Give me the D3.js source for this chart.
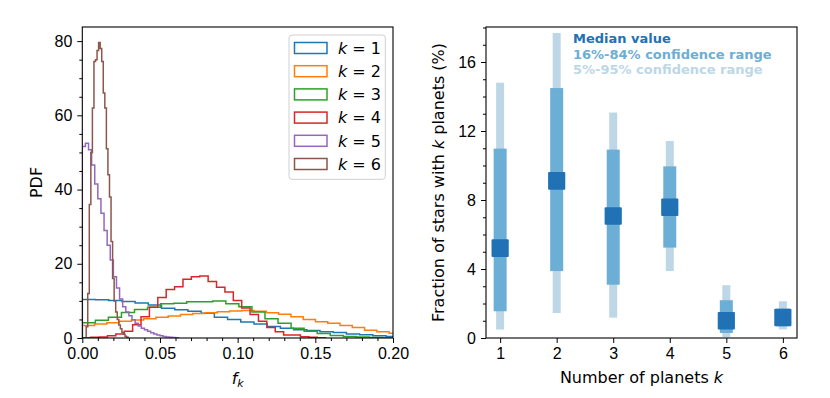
<!DOCTYPE html>
<html>
<head>
<meta charset="utf-8">
<script src="https://cdn.jsdelivr.net/npm/d3@7"></script>
<style>
  body { margin: 0; background: #fff; }
  svg { display: block; font-family: "DejaVu Sans", sans-serif; }
  .tick-text { font-size: 16px; fill: #000; }
  .axis-label { font-size: 16px; fill: #000; }
</style>
</head>
<body>
<svg id="chart" width="830" height="398"></svg>
<script>
// ========= data: left panel (step histograms of f_k) =========
const kLabels = ["1", "2", "3", "4", "5", "6"];
const histColors = ["#1f77b4", "#ff7f0e", "#2ca02c", "#d62728", "#9467bd", "#8c564b"];

// first bin edge and bin width for each k
const binStart = [0, 0, 0, 0, 0, 0.0025];
const binWidth = [0.0085, 0.0079, 0.0084, 0.0054, 0.002, 0.001];

const pdfK1 = [10.4, 10.3, 10.1, 9.85, 9.4, 8.9, 8.0, 7.6, 7.2, 6.7, 5.6, 5.0, 4.3, 3.8, 3.1, 2.6,
    2.2, 2.0, 1.7, 1.5, 1.1, 0.85, 0.6, 0.4];
const pdfK2 = [3.4, 3.8, 4.1, 4.5, 4.85, 5.2, 5.6, 5.9, 6.3, 6.6, 6.8, 7.1, 7.3, 7.4, 7.2, 6.8,
    6.4, 5.7, 5.0, 4.4, 4.0, 3.4, 2.8, 2.1, 1.7, 1.3, 1.0];
const pdfK3 = [4.1, 4.8, 5.6, 6.9, 7.7, 8.3, 9.2, 9.35, 9.8, 9.8, 9.95, 9.2, 8.4, 7.0, 5.2, 4.0,
    2.6, 1.8, 1.2, 0.7, 0.4, 0.25, 0.15, 0.1];
const pdfK4 = [0.1, 0.2, 0.3, 0.6, 1.1, 1.8, 3.6, 5.7, 8.3, 10.9, 13.1, 13.8, 15.8, 16.5, 16.7,
    15.2, 13.7, 12.4, 10.1, 8.1, 6.3, 4.5, 2.8, 1.7, 0.8, 0.8, 0.35, 0.2, 0.1];
const pdfK5 = [51.6, 52.5, 50.7, 46.6, 41.5, 37.5, 33.6, 29, 25, 21, 16.5, 13.5, 10.5, 8.4, 7,
    6, 4.9, 4, 3.2, 2.6, 2.2, 1.8, 1.4, 1.1, 0.8, 0.6, 0.4, 0.3, 0.2, 0.15, 0.1];
const pdfK6 = [3, 12, 36, 50, 62, 74.5, 75, 77.5, 79.6, 78, 74.5, 66, 62, 51, 44, 38, 26, 16, 10,
    7, 5, 3.5, 2.5, 1.5, 1, 0.5, 0.2];
const pdfSeries = [pdfK1, pdfK2, pdfK3, pdfK4, pdfK5, pdfK6];

const leftXTicks = [0, 0.05, 0.10, 0.15, 0.20];
const leftYTicks = [0, 20, 40, 60, 80];

// ========= data: right panel (fraction of stars, %) =========
const planetK = [1, 2, 3, 4, 5, 6];
const median = [5.21, 9.11, 7.07, 7.58, 1.0, 1.19];
const lo16 = [1.55, 3.88, 3.09, 5.24, 0.29, 0.68];
const hi84 = [10.98, 14.49, 10.92, 9.95, 2.19, 1.7];
const lo5 = [0.49, 1.45, 1.18, 3.88, 0.05, 0.5];
const hi95 = [14.8, 17.68, 13.07, 11.42, 3.06, 2.13];
const rightYTicks = [0, 4, 8, 12, 16];
const rangeLabels = ["Median value", "16%-84% confidence range", "5%-95% confidence range"];
const rangeColors = ["#2171b5", "#6baed6", "#bdd7e7"];

// ========= svg =========
const svg = d3.select("#chart");

const L = { left: 82.3, right: 393, top: 27, bottom: 338 };
const R = { left: 486, right: 797, top: 27, bottom: 338 };

const xL = d3.scaleLinear().domain([0, 0.2]).range([L.left, L.right]);
const yL = d3.scaleLinear().domain([0, 83.8]).range([L.bottom, L.top]);
const xR = d3.scaleLinear().domain([0.75, 6.25]).range([R.left, R.right]);
const yR = d3.scaleLinear().domain([0, 18.03]).range([R.bottom, R.top]);

function drawAxes(box, x, y, xTicks, xMinor, yTicks, yMinor, xFmt) {
    const g = svg.append("g");
    const ax = g.append("g")
        .attr("transform", `translate(0,${box.bottom})`)
        .call(d3.axisBottom(x).tickValues(xTicks).tickFormat(xFmt).tickSize(5).tickPadding(5));
    if (xMinor) {
        g.append("g")
            .attr("transform", `translate(0,${box.bottom})`)
            .call(d3.axisBottom(x).tickValues(xMinor).tickFormat("").tickSize(3))
            .call(s => s.select(".domain").remove());
    }
    const ay = g.append("g")
        .attr("transform", `translate(${box.left},0)`)
        .call(d3.axisLeft(y).tickValues(yTicks).tickFormat(d3.format("d")).tickSize(5).tickPadding(5));
    g.append("g")
        .attr("transform", `translate(${box.left},0)`)
        .call(d3.axisLeft(y).tickValues(yMinor).tickFormat("").tickSize(3))
        .call(s => s.select(".domain").remove());

    g.selectAll(".domain").remove();
    g.selectAll(".tick line").attr("stroke", "#000").attr("stroke-width", 1);
    g.selectAll(".tick text").attr("class", "tick-text").attr("font-size", null).attr("font-family", null);
    ax.selectAll(".tick text").attr("dy", null).attr("y", 21);
    return g;
}

function frame(box) {
    svg.append("rect")
        .attr("x", box.left)
        .attr("y", box.top)
        .attr("width", box.right - box.left)
        .attr("height", box.bottom - box.top)
        .attr("fill", "none")
        .attr("stroke", "#000")
        .attr("stroke-width", 1.1);
}

// ========= left panel =========
svg.append("defs").append("clipPath")
    .attr("id", "clipL")
    .append("rect")
    .attr("x", L.left)
    .attr("y", L.top)
    .attr("width", L.right - L.left)
    .attr("height", L.bottom - L.top);

const stepLine = d3.line()
    .x(d => xL(d[0]))
    .y(d => yL(d[1]));

const histG = svg.append("g").attr("clip-path", "url(#clipL)");

pdfSeries.forEach((vals, k) => {
    const pts = [[binStart[k], 0]];
    vals.forEach((v, i) => {
        const e0 = binStart[k] + i * binWidth[k];
        pts.push([e0, v], [e0 + binWidth[k], v]);
    });
    pts.push([binStart[k] + vals.length * binWidth[k], 0]);
    histG.append("path")
        .attr("d", stepLine(pts))
        .attr("fill", "none")
        .attr("stroke", histColors[k])
        .attr("stroke-width", 1.5)
        .attr("stroke-linejoin", "miter");
});

drawAxes(L, xL, yL, leftXTicks, d3.range(0, 21).map(i => i / 100).filter(v => Math.round(v * 100) % 5 !== 0),
    leftYTicks, d3.range(0, 84, 5).filter(v => v % 20 !== 0), d3.format(".2f"));
frame(L);

svg.append("text")
    .attr("class", "axis-label")
    .attr("transform", `translate(42,${(L.top + L.bottom) / 2}) rotate(-90)`)
    .attr("text-anchor", "middle")
    .text("PDF");

const fk = svg.append("text")
    .attr("class", "axis-label")
    .attr("x", (L.left + L.right) / 2)
    .attr("y", 384)
    .attr("text-anchor", "middle");
fk.append("tspan").attr("font-style", "italic").text("f");
fk.append("tspan").attr("font-style", "italic").attr("font-size", "11px").attr("dy", 3).text("k");

// legend
const legend = svg.append("g").attr("transform", "translate(289,35)");
legend.append("rect")
    .attr("width", 96.3)
    .attr("height", 144.3)
    .attr("rx", 3)
    .attr("fill", "#fff")
    .attr("fill-opacity", 0.8)
    .attr("stroke", "#d0d0d0")
    .attr("stroke-width", 1);

kLabels.forEach((lab, i) => {
    const cy = 13 + i * 23.2;
    legend.append("rect")
        .attr("x", 5.5)
        .attr("y", cy - 5.5)
        .attr("width", 32.5)
        .attr("height", 11)
        .attr("fill", "none")
        .attr("stroke", histColors[i])
        .attr("stroke-width", 1.5);
    const t = legend.append("text")
        .attr("class", "axis-label")
        .attr("x", 49)
        .attr("y", cy + 5.8);
    t.append("tspan").attr("font-style", "italic").text("k");
    t.append("tspan").text(" = " + lab);
});

// ========= right panel =========
const barsG = svg.append("g");

planetK.forEach((k, i) => {
    barsG.append("rect")
        .attr("x", xR(k) - 4)
        .attr("y", yR(hi95[i]))
        .attr("width", 8)
        .attr("height", yR(lo5[i]) - yR(hi95[i]))
        .attr("fill", rangeColors[2]);
    barsG.append("rect")
        .attr("x", xR(k) - 6.5)
        .attr("y", yR(hi84[i]))
        .attr("width", 13)
        .attr("height", yR(lo16[i]) - yR(hi84[i]))
        .attr("fill", rangeColors[1]);
    barsG.append("rect")
        .attr("x", xR(k) - 8.6)
        .attr("y", yR(median[i]) - 8.8)
        .attr("width", 17.2)
        .attr("height", 17.6)
        .attr("rx", 1)
        .attr("fill", rangeColors[0]);
});

drawAxes(R, xR, yR, planetK, null, rightYTicks, d3.range(0, 19).filter(v => v % 4 !== 0), d3.format("d"));
frame(R);

const ylab = svg.append("text")
    .attr("class", "axis-label")
    .attr("transform", `translate(444,${(R.top + R.bottom) / 2}) rotate(-90)`)
    .attr("text-anchor", "middle");
ylab.append("tspan").text("Fraction of stars with ");
ylab.append("tspan").attr("font-style", "italic").text("k");
ylab.append("tspan").text(" planets (%)");

const xlab = svg.append("text")
    .attr("class", "axis-label")
    .attr("x", (R.left + R.right) / 2)
    .attr("y", 383)
    .attr("text-anchor", "middle");
xlab.append("tspan").text("Number of planets ");
xlab.append("tspan").attr("font-style", "italic").text("k");

rangeLabels.forEach((lab, i) => {
    svg.append("text")
        .attr("x", 573)
        .attr("y", 43 + i * 15.5)
        .attr("font-size", "13px")
        .attr("font-weight", "bold")
        .attr("fill", rangeColors[i])
        .text(lab);
});
</script>
</body>
</html>
